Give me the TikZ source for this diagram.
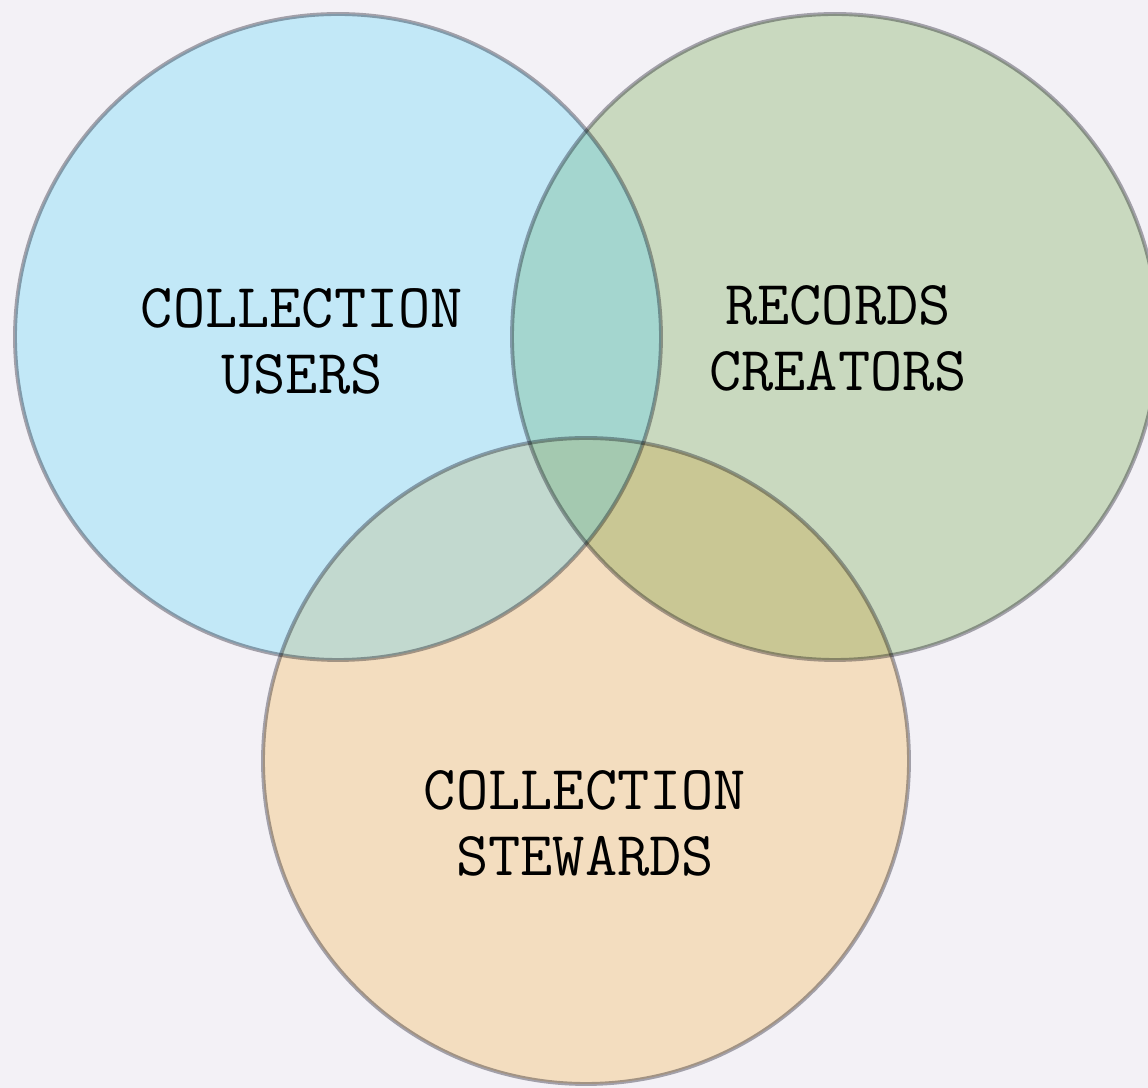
\documentclass[tikz,border=0pt]{standalone}
\usepackage{xcolor}
\definecolor{paper}{RGB}{243,241,246}
\definecolor{userblue}{RGB}{65,208,253}
\definecolor{creatorgreen}{RGB}{211,230,198}
\definecolor{stewardorange}{RGB}{255,234,198}
\definecolor{rimgray}{RGB}{170,170,176}
\begin{document}
\begin{tikzpicture}[>=latex,
  rim/.style={draw=rimgray, line width=1.1pt},
  tag/.style={align=center, text=black, font=\fontsize{17.8}{18.8}\selectfont\ttfamily}]
 %\draw [help lines] (0,0) grid (11.48,10.88);
 \fill [paper] (0,0) rectangle (11.48,10.88);
 \useasboundingbox (0,0) rectangle (11.48,10.88);
 \coordinate (U) at (3.38,7.51);
 \coordinate (C) at (8.35,7.51);
 \coordinate (S) at (5.86,3.27);
 %
 \begin{scope}[blend mode=multiply]
  \fill [creatorgreen] (C) circle (3.23);
  \fill [stewardorange] (S) circle (3.23);
 \end{scope}
 \fill [userblue, fill opacity=0.27] (U) circle (3.23);
 %
 \begin{scope}[blend mode=multiply]
  \draw [rim] (U) circle (3.23);
  \draw [rim] (C) circle (3.23);
  \draw [rim] (S) circle (3.23);
 \end{scope}
 %
 \node [tag] (users) at (3.02,7.47) {COLLECTION\\USERS};
 \node [tag] (creators) at (8.38,7.50) {RECORDS\\CREATORS};
 \node [tag] (stewards) at (5.85,2.65) {COLLECTION\\STEWARDS};
\end{tikzpicture}
\end{document}
